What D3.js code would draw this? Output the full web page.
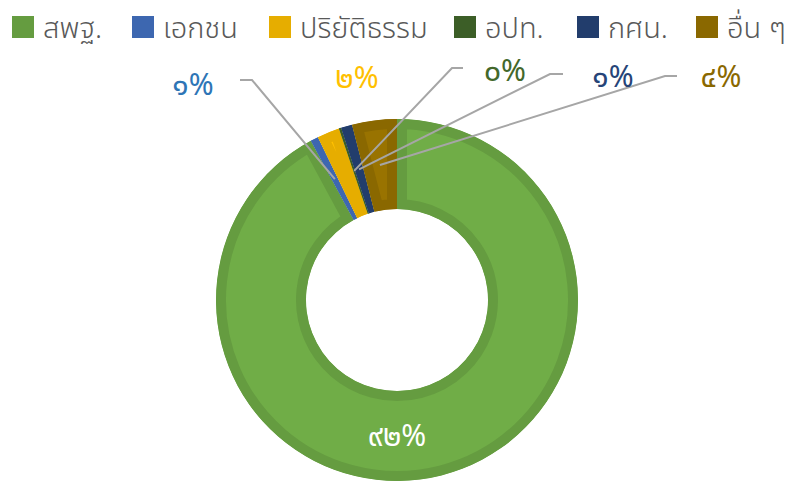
<!DOCTYPE html>
<html>
<head>
<meta charset="utf-8">
<script src="https://cdn.jsdelivr.net/npm/d3@7"></script>
<style>
  body { margin: 0; background: #fff; }
  svg { display: block; }
  text { font-family: "Noto Sans Thai", "Leelawadee UI", Tahoma, "Noto Sans", sans-serif; }
</style>
</head>
<body>
<svg id="chart" width="795" height="495"></svg>
<script>
// data
const categories = ['สพฐ.', 'เอกชน', 'ปริยัติธรรม', 'อปท.', 'กศน.', 'อื่น ๆ']
const shares = [92.1, 0.7, 2.0, 0.2, 1.0, 4.0]

// styles
const fills   = ['#70AD47', '#4472C4', '#FFC000', '#43682B', '#264478', '#997300']
const borders = ['#659C40', '#3D67B0', '#E6AD00', '#3C5E27', '#223D6C', '#8A6800']
const labelColors = ['#ffffff', '#2E75B6', '#FFC000', '#43682B', '#264478', '#8A6800']

// manual label placement (like the original workbook), centre of each label
const labelPos = [[397, 437], [193, 86], [357, 79], [505, 72], [613, 78], [721, 78]]
// leader elbows: [elbow x, end x, y]; null = no leader
const leaders = [null, [252, 240, 80], null, [452, 463, 68], [550, 563, 74], [665, 677, 76]]

const thaiDigits = '๐๑๒๓๔๕๖๗๘๙'
const toThai = n => String(n).replace(/[0-9]/g, d => thaiDigits[+d])

const cx = 397, cy = 300, outerR = 181, innerR = 91

const svg = d3.select('#chart')

const data = categories.map((c, i) => ({ name: c, value: shares[i], i }))

const pie = d3.pie().value(d => d.value).sort(null)
const arcs = pie(data)
const arc = d3.arc().innerRadius(innerR).outerRadius(outerR)
const total = d3.sum(shares)

const defs = svg.append('defs')
const g = svg.append('g').attr('transform', `translate(${cx},${cy})`)

arcs.forEach((a, k) => {
    defs.append('clipPath')
        .attr('id', 'clip' + k)
        .append('path')
        .attr('d', arc(a))

    g.append('path')
        .attr('d', arc(a))
        .attr('fill', fills[k])
        .attr('stroke', borders[k])
        .attr('stroke-width', 20)
        .attr('stroke-linejoin', 'miter')
        .attr('clip-path', `url(#clip${k})`)
})

// leader lines
arcs.forEach((a, k) => {
    if (!leaders[k]) return
    const c = arc.centroid(a)
    const [ex, sx, y] = leaders[k]
    svg.append('polyline')
        .attr('points', `${cx + c[0]},${cy + c[1]} ${ex},${y} ${sx},${y}`)
        .attr('fill', 'none')
        .attr('stroke', '#A6A6A6')
        .attr('stroke-width', 2)
})

// data labels
arcs.forEach((a, k) => {
    svg.append('text')
        .attr('x', labelPos[k][0])
        .attr('y', labelPos[k][1])
        .attr('text-anchor', 'middle')
        .attr('dominant-baseline', 'central')
        .attr('font-size', 30)
        .attr('font-weight', 400)
        .attr('fill', labelColors[k])
        .text(toThai(Math.round(a.data.value / total * 100)) + '%')
})

// legend
const legendX = [12, 132, 269, 454, 577, 696]
const legend = svg.append('g').attr('class', 'legend')
categories.forEach((c, k) => {
    legend.append('rect')
        .attr('x', legendX[k])
        .attr('y', 16)
        .attr('width', 22)
        .attr('height', 22)
        .attr('fill', borders[k])
    legend.append('text')
        .attr('x', legendX[k] + 31)
        .attr('y', 38)
        .attr('font-size', 29)
        .attr('font-weight', 300)
        .attr('fill', '#595959')
        .text(c)
})
</script>
</body>
</html>
